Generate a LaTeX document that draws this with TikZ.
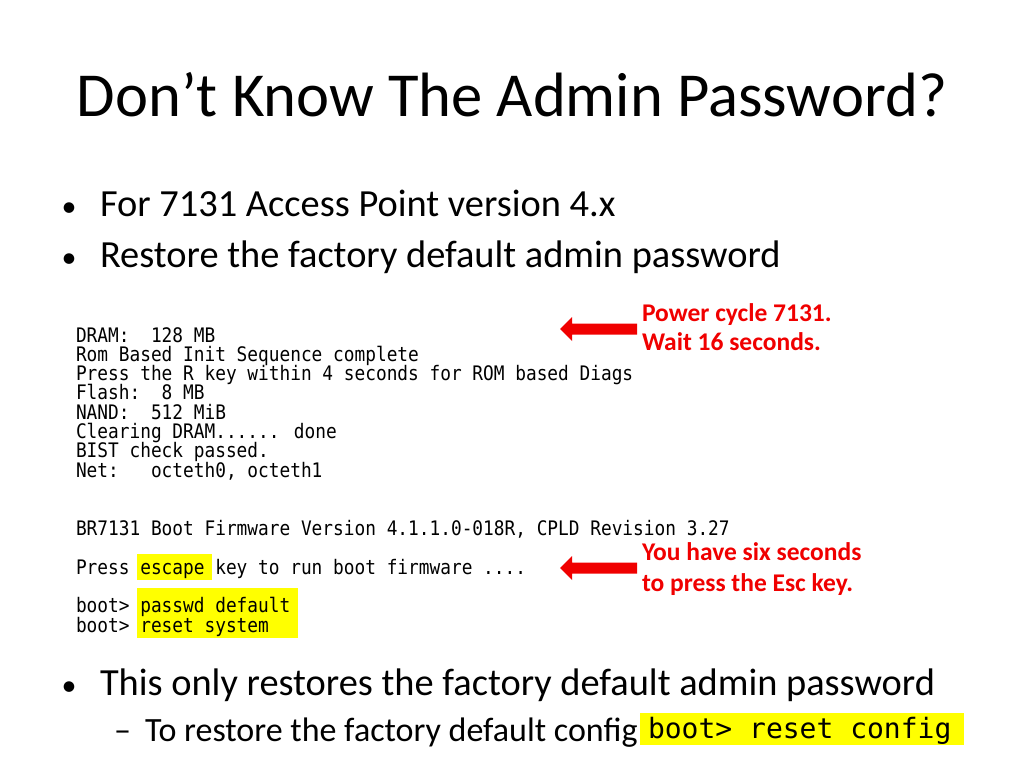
\documentclass[tikz,border=0pt]{standalone}
\usepackage{fontspec}
\setmainfont{Carlito}
\newfontfamily\termfont[FakeStretch=0.89]{DejaVu Sans Mono}
\newfontfamily\consfont{DejaVu Sans Mono}
\definecolor{hlyellow}{RGB}{255,255,0}
\definecolor{slidered}{RGB}{240,0,0}
\begin{document}
\begin{tikzpicture}[x=1pt,y=-1pt,
  txt/.style={anchor=base west, inner sep=0pt, outer sep=0pt},
  termline/.style={txt, font=\termfont\fontsize{20}{20}\selectfont},
  bullettxt/.style={txt, font=\fontsize{38.4}{38.4}\selectfont},
  subtxt/.style={txt, font=\fontsize{34}{34}\selectfont},
  dot/.style={anchor=base, inner sep=0pt, font=\fontsize{30}{30}\selectfont},
  note/.style={txt, text=slidered, font=\bfseries\fontsize{25.5}{25.5}\selectfont},
  hl/.style={fill=hlyellow, draw=none},
  redarrow/.style={fill=slidered, draw=none}
]
\useasboundingbox[fill=white] (0,0) rectangle (1024,768);

% title
\node[anchor=base, inner sep=0pt, font=\fontsize{62.6}{62.6}\selectfont] (title) at (512,116) {Don’t Know The Admin Password?};

% top bullets
\node[dot] (d1) at (69,216) {\textbullet};
\node[bullettxt] (b1) at (100,216) {For 7131 Access Point version 4.x};
\node[dot] (d2) at (69,267) {\textbullet};
\node[bullettxt] (b2) at (100,267) {Restore the factory default admin password};

% highlights
\fill[hl] (137,554) rectangle (212,580);
\fill[hl] (137,588) rectangle (298,638);

% terminal text
\node[termline] (t1) at (76,342) {DRAM:\ \ 128 MB};
\node[termline] (t2) at (76,361.3) {Rom Based Init Sequence complete};
\node[termline] (t3) at (76,380.6) {Press the R key within 4 seconds for ROM based Diags};
\node[termline] (t4) at (76,399.9) {Flash:\ \ 8 MB};
\node[termline] (t5) at (76,419.2) {NAND:\ \ 512 MiB};
\node[termline] (t6) at (76,438.5) {Clearing DRAM...... done};
\node[termline] (t7) at (76,457.8) {BIST check passed.};
\node[termline] (t8) at (76,477.1) {Net:\ \ \ octeth0, octeth1};
\node[termline] (t9) at (76,535) {BR7131 Boot Firmware Version 4.1.1.0-018R, CPLD Revision 3.27};
\node[termline] (t10) at (76,574) {Press escape key to run boot firmware ....};
\node[termline] (t11) at (76,612) {boot> passwd default};
\node[termline] (t12) at (76,632) {boot> reset system};

% red arrows and notes
\fill[redarrow] (560,329) -- (572,317) -- (572,323.5) -- (637,323.5) -- (637,334.5) -- (572,334.5) -- (572,341) -- cycle;
\node[note] (n1a) at (642,321) {Power cycle 7131.};
\node[note] (n1b) at (642,350) {Wait 16 seconds.};
\fill[redarrow] (560,568) -- (572,556) -- (572,562.5) -- (637,562.5) -- (637,573.5) -- (572,573.5) -- (572,580) -- cycle;
\node[note] (n2a) at (642,560) {You have six seconds};
\node[note] (n2b) at (642,591) {to press the Esc key.};

% bottom bullets
\node[dot] (d3) at (69,695) {\textbullet};
\node[bullettxt] (b3) at (100,695) {This only restores the factory default admin password};
\node[txt, font=\fontsize{34}{34}\selectfont] (dash) at (114,741) {–};
\fill[hl] (640,713) rectangle (964,745);
\node[subtxt] (b4) at (145,741) {To restore the factory default config};
\node[txt, font=\consfont\fontsize{28}{28}\selectfont] (cmd) at (648,738) {boot> reset config};
\end{tikzpicture}
\end{document}
